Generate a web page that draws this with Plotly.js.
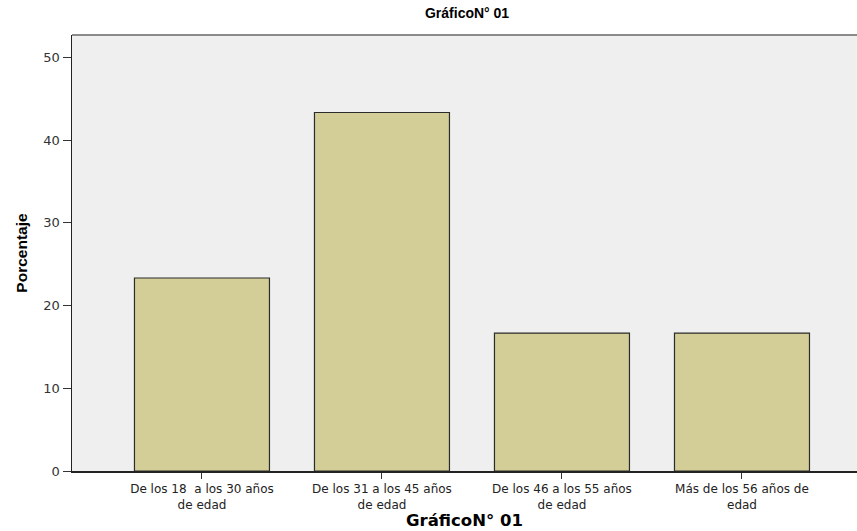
<!DOCTYPE html>
<html>
<head>
<meta charset="utf-8">
<script src="https://cdn.plot.ly/plotly-3.0.1.min.js"></script>
<style>html,body{margin:0;padding:0;background:#fff;}#chart{width:857px;height:531px;}</style>
</head>
<body>
<div id="chart"></div>
<script>
const categories = [
  "De los 18  a los 30 años<br>de edad",
  "De los 31 a los 45 años<br>de edad",
  "De los 46 a los 55 años<br>de edad",
  "Más de los 56 años de<br>edad"
];
const percentages = [23.33, 43.33, 16.67, 16.67];
const yTickValues = [0, 10, 20, 30, 40, 50];
const chartTitle = "GráficoN° 01";
const yTitle = "Porcentaje";

const trace = {
  type: "bar",
  x: [0, 1, 2, 3],
  y: percentages,
  width: 0.75,
  marker: { color: "#d3ce98", line: { color: "#2b2b2b", width: 1.2 } },
  hoverinfo: "y"
};

const layout = {
  width: 857,
  height: 531,
  margin: { l: 72, r: 0, t: 35, b: 60 },
  paper_bgcolor: "#ffffff",
  plot_bgcolor: "#efefef",
  showlegend: false,
  font: { family: "DejaVu Sans, Arial, sans-serif", size: 11, color: "#222" },
  title: {
    text: chartTitle,
    font: { family: "Liberation Sans, Arial, sans-serif", size: 14, color: "#000", weight: "bold" },
    xref: "container", x: 0.545, xanchor: "center",
    yref: "container", y: 0.985, yanchor: "top"
  },
  xaxis: {
    range: [-0.722, 3.639],
    tickmode: "array",
    tickvals: [0, 1, 2, 3],
    ticktext: categories,
    ticks: "outside",
    ticklen: 6,
    tickcolor: "#333",
    tickwidth: 1,
    showline: true,
    linecolor: "#222",
    linewidth: 1.5,
    showgrid: false,
    zeroline: false,
    tickfont: { family: "DejaVu Sans, Arial, sans-serif", size: 12, color: "#222" },
    title: {
      text: chartTitle,
      font: { family: "DejaVu Sans, Arial, sans-serif", size: 16.5, color: "#000", weight: "bold" },
      standoff: 3
    },
    fixedrange: true
  },
  yaxis: {
    range: [0, 52.7],
    tickmode: "array",
    tickvals: yTickValues,
    ticks: "outside",
    ticklen: 8,
    tickcolor: "#333",
    tickwidth: 1,
    showline: true,
    linecolor: "#222",
    linewidth: 1.5,
    showgrid: false,
    zeroline: false,
    tickfont: { family: "DejaVu Sans, Arial, sans-serif", size: 13, color: "#333" },
    title: {
      text: yTitle,
      font: { family: "Liberation Sans Narrow, Arial Narrow, Liberation Sans, sans-serif", size: 15.5, color: "#000", weight: "bold" },
      standoff: 12
    },
    fixedrange: true
  },
  shapes: [{
    type: "line", xref: "paper", yref: "paper",
    x0: 0, x1: 1, y0: 1, y1: 1,
    line: { color: "#8a8a8a", width: 2 }
  }]
};

Plotly.newPlot("chart", [trace], layout, { displayModeBar: false, staticPlot: true });
</script>
</body>
</html>
